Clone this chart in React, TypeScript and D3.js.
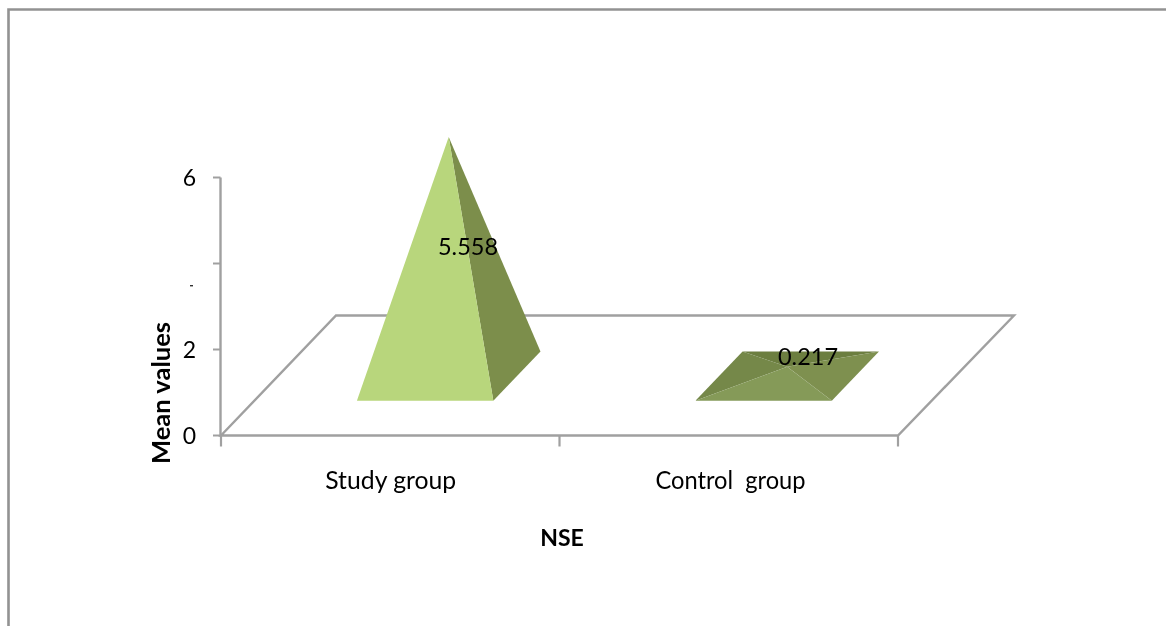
import React from "react";
import * as d3 from "d3";

const categories = ["Study group", "Control  group"];
const seriesValues = [5.558, 0.217];
const valueLabels = ["5.558", "0.217"];
const yTickValues = [0, 2, 4, 6];
const yTickLabels = ["0", "2", "", "6"];

const W = 1166;
const H = 626;
const AXIS = "#a0a0a0";
const FONT = "Lato, 'Open Sans', sans-serif";

const y = d3.scaleLinear().domain([0, 6]).range([435.5, 177.5]);
const x = d3.scaleBand<string>().domain(categories).range([221, 898]).paddingInner(0).paddingOuter(0);
const depthX = 115;
const depthY = -120;
const line = d3.line<[number, number]>();

// Each bar's base footprint is a fraction of the band and of the floor depth
const baseFracLeft = 0.303;
const baseFracWidth = 0.403;
const depthNear = 0.29;
const depthFar = 0.70;

function pyramid(cat: string, value: number) {
  const bx = x(cat)!;
  const bw = x.bandwidth();
  const fl = bx + bw * baseFracLeft;
  const fr = fl + bw * baseFracWidth;
  const yFloor = y(0);
  const near = (k: number): [number, number] => [k + depthX * depthNear, yFloor + depthY * depthNear];
  const far = (k: number): [number, number] => [k + depthX * depthFar, yFloor + depthY * depthFar];
  const A = near(fl);
  const B = near(fr);
  const C = far(fr);
  const D = far(fl);
  const cx = (A[0] + C[0]) / 2;
  const cy = (A[1] + C[1]) / 2;
  const apex: [number, number] = [cx, cy - (y(0) - y(value))];
  return { A, B, C, D, apex };
}

const floorPts: [number, number][] = [
  [x.range()[0], y(0)],
  [x.range()[0] + depthX, y(0) + depthY],
  [x.range()[1] + depthX + 1, y(0) + depthY],
  [x.range()[1], y(0)],
];

export default function App() {
  const [p0, p1] = categories.map((c, i) => pyramid(c, seriesValues[i]));
  const xTicks = [...categories.map((c) => x(c)!), x.range()[1]];
  return (
    <svg
      width={W}
      height={H}
      viewBox={`0 0 ${W} ${H}`}
      style={{ position: "absolute", left: 0, top: 0, display: "block", background: "#fff" }}
    >
      <defs>
        <filter id="soft" x="-5%" y="-5%" width="110%" height="110%">
          <feGaussianBlur stdDeviation="0.5" />
        </filter>
      </defs>
      <path d={`M8.5 ${H}V9.5H${W}`} fill="none" stroke="#929292" strokeWidth={2.6} />
      <g filter="url(#soft)">
        {/* floor */}
        <path d={line(floorPts)! + "Z"} fill="none" stroke={AXIS} strokeWidth={2.4} />
        {/* y axis */}
        <line x1={220.5} x2={220.5} y1={y(6)} y2={y(0)} stroke={AXIS} strokeWidth={2.4} />
        {yTickValues.map((t) => (
          <line key={t} x1={213} x2={220.5} y1={y(t)} y2={y(t)} stroke={AXIS} strokeWidth={2} />
        ))}
        {yTickValues.map((t, i) => (
          <text key={t} x={196} y={y(t) + 8} textAnchor="end" fontFamily={FONT} fontSize={23} fill="#000">
            {yTickLabels[i]}
          </text>
        ))}
        <rect x={190} y={285} width={3} height={1.4} fill="#333" />
        {/* x axis ticks */}
        {xTicks.map((t) => (
          <line key={t} x1={t} x2={t} y1={y(0)} y2={y(0) + 11} stroke={AXIS} strokeWidth={2.2} />
        ))}

        {/* Study group pyramid */}
        <path d={line([p0.B, p0.C, p0.apex])! + "Z"} fill="#7c8e4b" />
        <path d={line([p0.A, p0.B, p0.apex])! + "Z"} fill="#b8d67b" />

        {/* Control group pyramid */}
        <path d={line([p1.D, p1.C, p1.apex])! + "Z"} fill="#6c7e41" />
        <path d={line([p1.A, p1.D, p1.apex])! + "Z"} fill="#748849" />
        <path d={line([p1.B, p1.C, p1.apex])! + "Z"} fill="#7e9050" />
        <path d={line([p1.A, p1.B, p1.apex])! + "Z"} fill="#859a59" />

        {/* value labels */}
        {valueLabels.map((l, i) => (
          <text
            key={l}
            x={i === 0 ? 468 : 808}
            y={i === 0 ? 255 : 365}
            textAnchor="middle"
            fontFamily={FONT}
            fontSize={23.5}
            fill="#000"
          >
            {l}
          </text>
        ))}

        {/* category labels */}
        {categories.map((c, i) => (
          <text
            key={c}
            x={x(c)! + x.bandwidth() / 2 + (i === 0 ? 0.5 : 1.75)}
            y={489}
            textAnchor="middle"
            fontFamily={FONT}
            fontSize={24.5}
            fill="#000"
            textLength={i === 0 ? 131 : 150}
            lengthAdjust="spacingAndGlyphs"
            style={{ whiteSpace: "pre" }}
          >
            {c}
          </text>
        ))}

        {/* axis titles */}
        <text x={562} y={546} textAnchor="middle" fontFamily={FONT} fontWeight={700} fontSize={23} fill="#000">
          NSE
        </text>
        <text
          transform="translate(170,393) rotate(-90)"
          textAnchor="middle"
          fontFamily={FONT}
          fontWeight={700}
          fontSize={24}
          fill="#000"
          textLength={142}
          lengthAdjust="spacingAndGlyphs"
        >
          Mean values
        </text>
      </g>
    </svg>
  );
}
